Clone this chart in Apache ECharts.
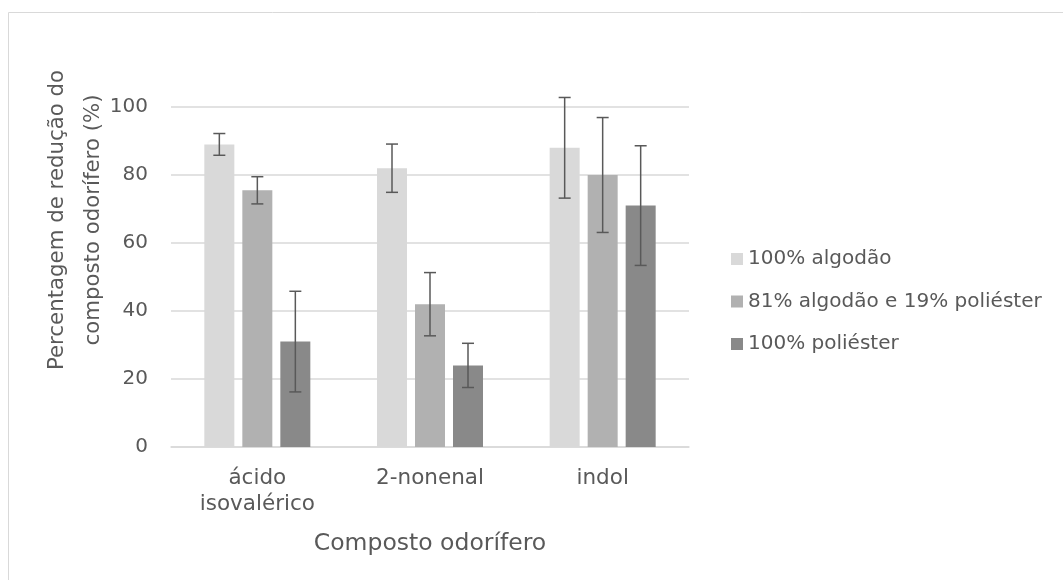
<!DOCTYPE html>
<html>
<head>
<meta charset="utf-8">
<script src="https://cdn.jsdelivr.net/npm/echarts@6/dist/echarts.min.js"></script>
<style>html,body{margin:0;padding:0;background:#fff}#c{width:1063px;height:580px}</style>
</head>
<body>
<div id="c"></div>
<script>
var categories = ['ácido\nisovalérico', '2-nonenal', 'indol'];
var seriesNames = ['100% algodão', '81% algodão e 19% poliéster', '100% poliéster'];
var algodao = [89, 82, 88];
var mistura = [75.5, 42, 80];
var poliester = [31, 24, 71];
var errAlgodao = [3.2, 7.1, 14.8];
var errMistura = [4.0, 9.3, 16.9];
var errPoliester = [14.8, 6.5, 17.6];
var yTicks = [0, 20, 40, 60, 80, 100];

var values = [algodao, mistura, poliester];
var errors = [errAlgodao, errMistura, errPoliester];
var colors = ['#d9d9d9', '#b1b1b1', '#898989'];
var BAR_W = 30, GAP = 8;
var FONT = 'DejaVu Sans';

var chart = echarts.init(document.getElementById('c'));
var series = [];
values.forEach(function (v, i) {
  series.push({
    name: seriesNames[i], type: 'bar', data: v,
    barWidth: BAR_W, barGap: (GAP / BAR_W * 100) + '%',
    itemStyle: { color: colors[i] }, emphasis: { disabled: true }
  });
});
values.forEach(function (v, i) {
  var d = v.map(function (val, k) { return [k, val, errors[i][k]]; });
  series.push({
    type: 'custom', data: d, clip: false, silent: true, z: 10,
    renderItem: function (params, api) {
      var k = api.value(0), val = api.value(1), e = api.value(2);
      var off = (i - 1) * (BAR_W + GAP);
      var top = api.coord([k, val + e]);
      var bot = api.coord([k, val - e]);
      var x = top[0] + off, cap = 6;
      var st = { stroke: '#595959', lineWidth: 1.5 };
      return { type: 'group', children: [
        { type: 'line', shape: { x1: x, y1: top[1], x2: x, y2: bot[1] }, style: st },
        { type: 'line', shape: { x1: x - cap, y1: top[1], x2: x + cap, y2: top[1] }, style: st },
        { type: 'line', shape: { x1: x - cap, y1: bot[1], x2: x + cap, y2: bot[1] }, style: st }
      ]};
    }
  });
});

chart.setOption({
  animation: false,
  textStyle: { fontFamily: FONT },
  grid: { left: 171, right: 374, top: 107, bottom: 133 },
  legend: {
    data: seriesNames, orient: 'vertical', left: 726, top: 244,
    itemWidth: 12, itemHeight: 12, itemGap: 22.5,
    icon: 'rect',
    textStyle: { fontFamily: FONT, fontSize: 20, color: '#595959' }
  },
  xAxis: {
    type: 'category', data: categories,
    axisLine: { lineStyle: { color: '#d9d9d9', width: 1.5 } },
    axisTick: { show: false },
    axisLabel: { fontFamily: FONT, fontSize: 21.5, color: '#595959', margin: 18, lineHeight: 26 },
    name: 'Composto odorífero', nameLocation: 'middle', nameGap: 85,
    nameTextStyle: { fontFamily: FONT, fontSize: 23.5, color: '#595959' }
  },
  yAxis: {
    type: 'value', min: 0, max: 100, interval: 20,
    axisLine: { show: false }, axisTick: { show: false },
    axisLabel: { fontFamily: FONT, fontSize: 20, color: '#595959', margin: 23,
      formatter: function (v) { return yTicks.indexOf(v) >= 0 ? String(v) : ''; } },
    splitLine: { lineStyle: { color: '#d9d9d9', width: 1.5 } }
  },
  graphic: [
    { type: 'rect', shape: { x: 8.5, y: 12.5, width: 1200, height: 700 },
      style: { fill: 'none', stroke: '#d9d9d9', lineWidth: 1 }, silent: true },
    { type: 'text', x: 75, y: 220, rotation: Math.PI / 2,
      style: { text: 'Percentagem de redução do\ncomposto odorífero (%)', fontFamily: FONT,
        fontSize: 21.3, fill: '#595959', align: 'center', verticalAlign: 'middle', lineHeight: 36 } }
  ],
  series: series
});
</script>
</body>
</html>
